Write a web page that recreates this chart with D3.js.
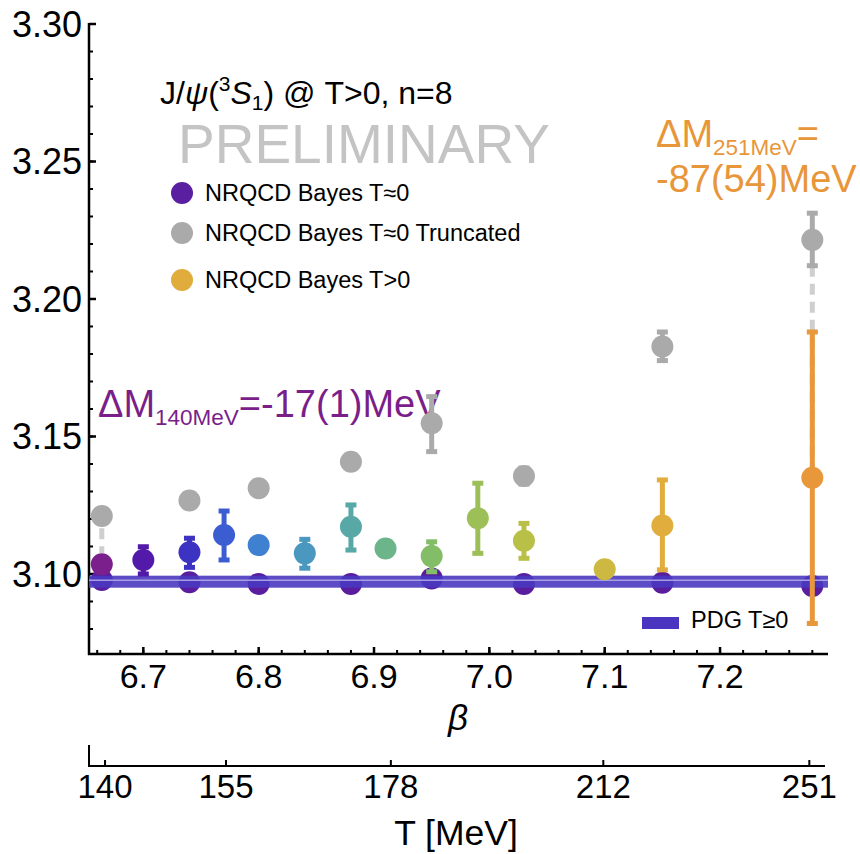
<!DOCTYPE html>
<html>
<head>
<meta charset="utf-8">
<script src="https://cdn.jsdelivr.net/npm/d3@7"></script>
<style>
  html, body { margin: 0; padding: 0; background: #fff; }
  svg text { font-family: "Liberation Sans", Arial, Helvetica, sans-serif; }
</style>
</head>
<body>
<svg id="chart" width="860" height="854"></svg>
<script>
// Lattice couplings with zero-temperature NRQCD masses (GeV)
const betaT0 = [6.664, 6.74, 6.80, 6.88, 6.95, 7.03, 7.15, 7.28];
const massT0 = [3.0978, 3.0970, 3.0964, 3.0964, 3.0984, 3.0964, 3.0968, 3.0956];

// Truncated zero-temperature masses at the same couplings
const massTrunc = [3.1211, 3.1267, 3.1312, 3.1408, 3.1548, 3.1356, 3.1827, 3.2215];
const truncLo   = [null, null, null, null, 3.1445, 3.1327, 3.1776, 3.2121];
const truncHi   = [null, null, null, null, 3.1645, 3.1385, 3.1880, 3.2312];
// Dashed tails below the truncated points
const tailBeta = [6.664, 7.28];
const tailTop  = [3.1166, 3.2121];
const tailBot  = [3.1075, 3.1389];

// Finite-temperature masses
const betaT   = [6.664, 6.70, 6.74, 6.77, 6.80, 6.84, 6.88, 6.91, 6.95, 6.99, 7.03, 7.10, 7.15, 7.28];
const massT   = [3.1035, 3.1051, 3.1079, 3.1142, 3.1105, 3.1075, 3.1172, 3.1093, 3.1065, 3.1203, 3.1121, 3.1017, 3.1176, 3.135];
const errLoT  = [null, 3.1000, 3.1024, 3.1051, null, 3.1021, 3.1087, null, 3.1008, 3.1075, 3.1057, null, 3.1015, 3.082];
const errHiT  = [null, 3.1099, 3.1130, 3.1229, null, 3.1126, 3.1251, null, 3.1117, 3.1330, 3.1184, null, 3.1342, 3.188];
const colorT  = ["#7b1f8c", "#5319a8", "#3d33c2", "#3c5cd2", "#4080d0", "#4a98c0", "#58a8a8",
                 "#6cb58a", "#84bd68", "#9cc057", "#b9c048", "#cdb841", "#e1ad3c", "#e8973a"];

// PDG J/psi mass
const pdgMass = 3.0972;

// Axis ticks
const yMajor = [3.10, 3.15, 3.20, 3.25, 3.30];
const yMinor = d3.range(3.08, 3.3001, 0.01);
const xMajor = [6.7, 6.8, 6.9, 7.0, 7.1, 7.2];
const xMinor = d3.range(6.66, 7.2801, 0.02);
const tempLabels = ["140", "155", "178", "212", "251"];
const tempBeta   = [6.6668, 6.7717, 6.9146, 7.0988, 7.2774];

const legendLabels = ["NRQCD Bayes T\u22480", "NRQCD Bayes T\u22480 Truncated", "NRQCD Bayes T>0"];
const legendColors = ["#5a1fa0", "#aaaaaa", "#e0ac3c"];

const svg = d3.select("#chart");
const x = d3.scaleLinear().domain([6.6529, 7.2936]).range([89, 828]);
const y = d3.scaleLinear().domain([3.0709, 3.30]).range([654, 24]);
const R = 11;

// ---- y axis ----
const yAxis = svg.append("g");
yAxis.append("line").attr("x1", 89).attr("x2", 89).attr("y1", y(3.30) - 1).attr("y2", 655)
  .attr("stroke", "#000").attr("stroke-width", 2.5);
yAxis.selectAll(".ymin").data(yMinor).join("line")
  .attr("x1", 89).attr("x2", 93).attr("y1", d => y(d)).attr("y2", d => y(d))
  .attr("stroke", "#000").attr("stroke-width", 2);
yAxis.selectAll(".ymaj").data(yMajor).join("line")
  .attr("x1", 89).attr("x2", 96).attr("y1", d => y(d)).attr("y2", d => y(d))
  .attr("stroke", "#000").attr("stroke-width", 2.5);
yAxis.selectAll("text").data(yMajor).join("text")
  .attr("x", 82).attr("y", d => y(d)).attr("dy", "0.36em")
  .attr("text-anchor", "end").attr("font-size", 36).attr("fill", "#000")
  .text(d => d.toFixed(2));

// ---- beta axis ----
const xAxis = svg.append("g");
xAxis.append("line").attr("x1", 88).attr("x2", 828).attr("y1", 654).attr("y2", 654)
  .attr("stroke", "#000").attr("stroke-width", 2.5);
xAxis.selectAll(".xmin").data(xMinor).join("line")
  .attr("x1", d => x(d)).attr("x2", d => x(d)).attr("y1", 654).attr("y2", 650)
  .attr("stroke", "#000").attr("stroke-width", 2);
xAxis.selectAll(".xmaj").data(xMajor).join("line")
  .attr("x1", d => x(d)).attr("x2", d => x(d)).attr("y1", 654).attr("y2", 647)
  .attr("stroke", "#000").attr("stroke-width", 2.5);
xAxis.selectAll("text").data(xMajor).join("text")
  .attr("x", d => x(d)).attr("y", 688).attr("text-anchor", "middle")
  .attr("font-size", 34).attr("fill", "#000").text(d => d.toFixed(1));
svg.append("text").attr("x", 458).attr("y", 730).attr("text-anchor", "middle")
  .attr("font-size", 35).attr("font-style", "italic").text("\u03b2");

// ---- temperature axis ----
const tAxis = svg.append("g");
tAxis.append("line").attr("x1", 89).attr("x2", 825).attr("y1", 766).attr("y2", 766)
  .attr("stroke", "#000").attr("stroke-width", 2);
tAxis.append("line").attr("x1", 89).attr("x2", 89).attr("y1", 745).attr("y2", 767)
  .attr("stroke", "#000").attr("stroke-width", 2);
tAxis.selectAll(".tt").data(tempBeta).join("line")
  .attr("x1", d => x(d)).attr("x2", d => x(d)).attr("y1", 766).attr("y2", 760)
  .attr("stroke", "#000").attr("stroke-width", 2);
tAxis.selectAll("text").data(tempBeta).join("text")
  .attr("x", d => x(d)).attr("y", 798).attr("text-anchor", "middle")
  .attr("font-size", 33).attr("fill", "#000").text((d, i) => tempLabels[i]);
svg.append("text").attr("x", 456).attr("y", 845).attr("text-anchor", "middle")
  .attr("font-size", 35.5).text("T [MeV]");

// ---- header texts ----
const title = svg.append("text").attr("x", 160).attr("y", 104).attr("font-size", 32).attr("fill", "#000");
title.append("tspan").text("J/");
title.append("tspan").attr("font-style", "italic").text("\u03c8");
title.append("tspan").text("(");
title.append("tspan").attr("font-size", 21).attr("dy", -13).text("3");
title.append("tspan").attr("font-style", "italic").attr("dy", 13).text("S");
title.append("tspan").attr("font-size", 21).attr("dy", 6).text("1");
title.append("tspan").attr("dy", -6).text(") @ T>0, n=8");

svg.append("text").attr("x", 178).attr("y", 163).attr("font-size", 55)
  .attr("fill", "#c4c4c4").text("PRELIMINARY");

// ---- legend ----
const legY = [193, 233, 280];
const leg = svg.append("g");
leg.selectAll("circle").data(legendLabels).join("circle")
  .attr("cx", 182).attr("cy", (d, i) => legY[i]).attr("r", R)
  .attr("fill", (d, i) => legendColors[i]);
leg.selectAll("text").data(legendLabels).join("text")
  .attr("x", 205).attr("y", (d, i) => legY[i]).attr("dy", "0.36em")
  .attr("font-size", 23.5).attr("fill", "#000").text(d => d);

// ---- mass shift annotations (beneath the data marks) ----
const a1 = svg.append("text").attr("x", 98).attr("y", 417).attr("font-size", 38).attr("fill", "#7a1f8a");
a1.append("tspan").text("\u0394M");
a1.append("tspan").attr("font-size", 22.5).attr("dy", 8).text("140MeV");
a1.append("tspan").attr("dy", -8).text("=-17(1)MeV");

const a2 = svg.append("text").attr("x", 656).attr("y", 147).attr("font-size", 38).attr("fill", "#e8963a");
a2.append("tspan").text("\u0394M");
a2.append("tspan").attr("font-size", 22.5).attr("dy", 8).text("251MeV");
a2.append("tspan").attr("dy", -8).text("=");
svg.append("text").attr("x", 656).attr("y", 192).attr("font-size", 38).attr("fill", "#e8963a")
  .text("-87(54)MeV");

// ---- truncated points ----
const gTr = svg.append("g");
gTr.selectAll(".tail").data(tailBeta).join("line")
  .attr("x1", d => x(d)).attr("x2", d => x(d))
  .attr("y1", (d, i) => y(tailTop[i])).attr("y2", (d, i) => y(tailBot[i]))
  .attr("stroke", "#cfcfcf").attr("stroke-width", 5).attr("stroke-dasharray", "11,7");

function errorBars(g, betas, lo, hi, colors, cls) {
  const idx = betas.map((b, i) => i).filter(i => lo[i] !== null);
  g.selectAll("." + cls + "s").data(idx).join("line")
    .attr("x1", i => x(betas[i])).attr("x2", i => x(betas[i]))
    .attr("y1", i => y(hi[i])).attr("y2", i => y(lo[i]))
    .attr("stroke", i => colors[i]).attr("stroke-width", 5);
  const caps = [];
  idx.forEach(i => { caps.push([i, hi[i]]); caps.push([i, lo[i]]); });
  g.selectAll("." + cls + "c").data(caps).join("rect")
    .attr("x", d => x(betas[d[0]]) - 5.5).attr("y", d => y(d[1]) - 2.5)
    .attr("width", 11).attr("height", 5).attr("fill", d => colors[d[0]]);
}

const grayColors = betaT0.map(() => "#aaaaaa");
errorBars(gTr, betaT0, truncLo, truncHi, grayColors, "tr");
gTr.selectAll("circle").data(betaT0).join("circle")
  .attr("cx", d => x(d)).attr("cy", (d, i) => y(massTrunc[i])).attr("r", R)
  .attr("fill", "#aaaaaa");

// ---- zero-temperature points ----
svg.append("g").selectAll("circle").data(betaT0).join("circle")
  .attr("cx", d => x(d)).attr("cy", (d, i) => y(massT0[i])).attr("r", R)
  .attr("fill", "#5a1d9e");

// ---- PDG band ----
const band = svg.append("g");
band.append("rect").attr("x", 89).attr("width", 828 - 89)
  .attr("y", y(pdgMass) - 6).attr("height", 12)
  .attr("fill", "#4a38c0").attr("fill-opacity", 0.9);
band.append("line").attr("x1", 89).attr("x2", 828)
  .attr("y1", y(pdgMass) - 1.5).attr("y2", y(pdgMass) - 1.5)
  .attr("stroke", "#a89ee6").attr("stroke-width", 1.5);

// ---- finite-temperature points ----
const gT = svg.append("g");
errorBars(gT, betaT, errLoT, errHiT, colorT, "ft");
gT.selectAll("circle").data(betaT).join("circle")
  .attr("cx", d => x(d)).attr("cy", (d, i) => y(massT[i])).attr("r", R)
  .attr("fill", (d, i) => colorT[i]);

// ---- PDG legend ----
svg.append("rect").attr("x", 642).attr("y", 617).attr("width", 37).attr("height", 12).attr("fill", "#4a35c0");
svg.append("text").attr("x", 691).attr("y", 628).attr("font-size", 23.5).text("PDG T\u22650");
</script>
</body>
</html>
